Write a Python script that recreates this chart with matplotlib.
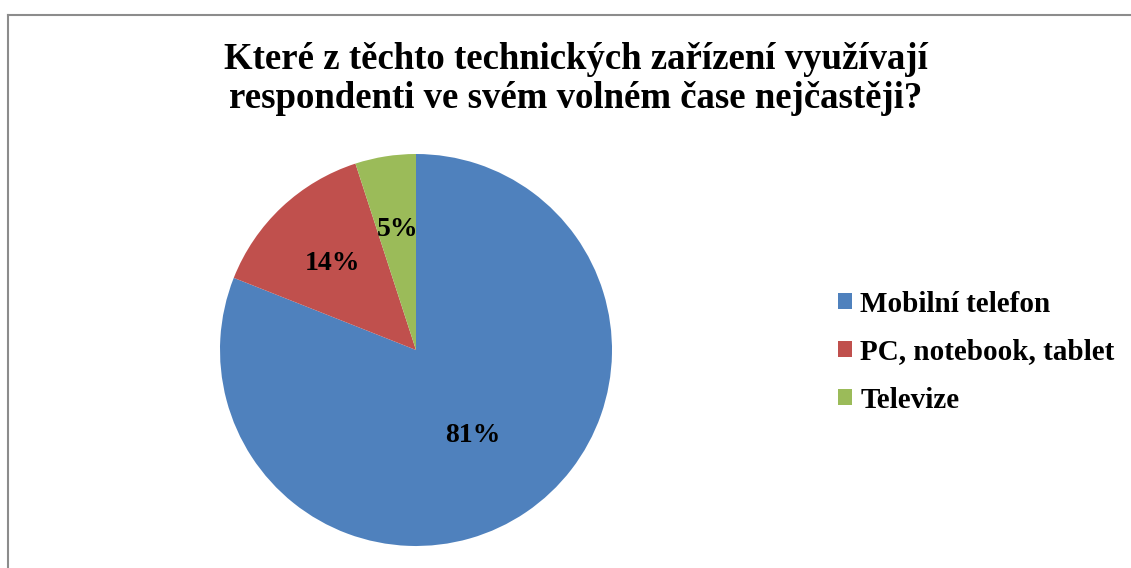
import matplotlib
matplotlib.use("Agg")
import matplotlib.pyplot as plt
from matplotlib.lines import Line2D
from matplotlib.patches import Patch
import numpy as np

categories = ["Mobilní telefon", "PC, notebook, tablet", "Televize"]
values = [81, 14, 5]
colors = ["#4F81BD", "#C0504D", "#9BBB59"]
title_lines = ["Které z těchto technických zařízení využívají",
               "respondenti ve svém volném čase nejčastěji?"]

plt.rcParams['font.family'] = ['Liberation Serif', 'DejaVu Serif']
plt.rcParams['font.weight'] = 'bold'

W, H = 1131, 568
fig = plt.figure(figsize=(W/100, H/100), dpi=100)
fig.patch.set_facecolor("white")

# frame lines (left and top)
fig.add_artist(Line2D([8/W, 8/W], [0, 1-15/H], transform=fig.transFigure, color="#8c8c8c", lw=1.5))
fig.add_artist(Line2D([8/W, 1], [1-15/H, 1-15/H], transform=fig.transFigure, color="#8c8c8c", lw=1.5))

cx, cy, r = 416, 350, 196
ax = fig.add_axes([(cx-r)/W, (H-cy-r)/H, 2*r/W, 2*r/H])
wedges, _ = ax.pie(values, colors=colors, startangle=90, counterclock=False,
                   radius=1, wedgeprops=dict(linewidth=0))
ax.set_xlim(-1, 1); ax.set_ylim(-1, 1)
ax.set_aspect('equal')
ax.axis('off')

label_dist = [0.50, 0.64, 0.65]
for w, v, d in zip(wedges, values, label_dist):
    ang = np.deg2rad((w.theta1 + w.theta2) / 2)
    ax.text(d*np.cos(ang) + 0.01, d*np.sin(ang) - 0.025, f"{v}%", ha='center', va='center',
            fontsize=20, fontweight='bold')

for line, base in zip(title_lines, [69, 108]):
    fig.text(576/W, 1-base/H, line, ha='center', va='baseline', fontsize=26.5,
             fontweight='bold')

handles = [Patch(facecolor=c, edgecolor='none') for c in colors]
leg = fig.legend(handles, categories, loc='center left',
                 bbox_to_anchor=(838/W, 1-352/H), frameon=False,
                 prop=dict(size=21, weight='bold'),
                 borderaxespad=0, borderpad=0,
                 handlelength=0.48, handleheight=0.48, handletextpad=0.28,
                 labelspacing=0.72)

fig.savefig("out.png", dpi=100, facecolor="white")
